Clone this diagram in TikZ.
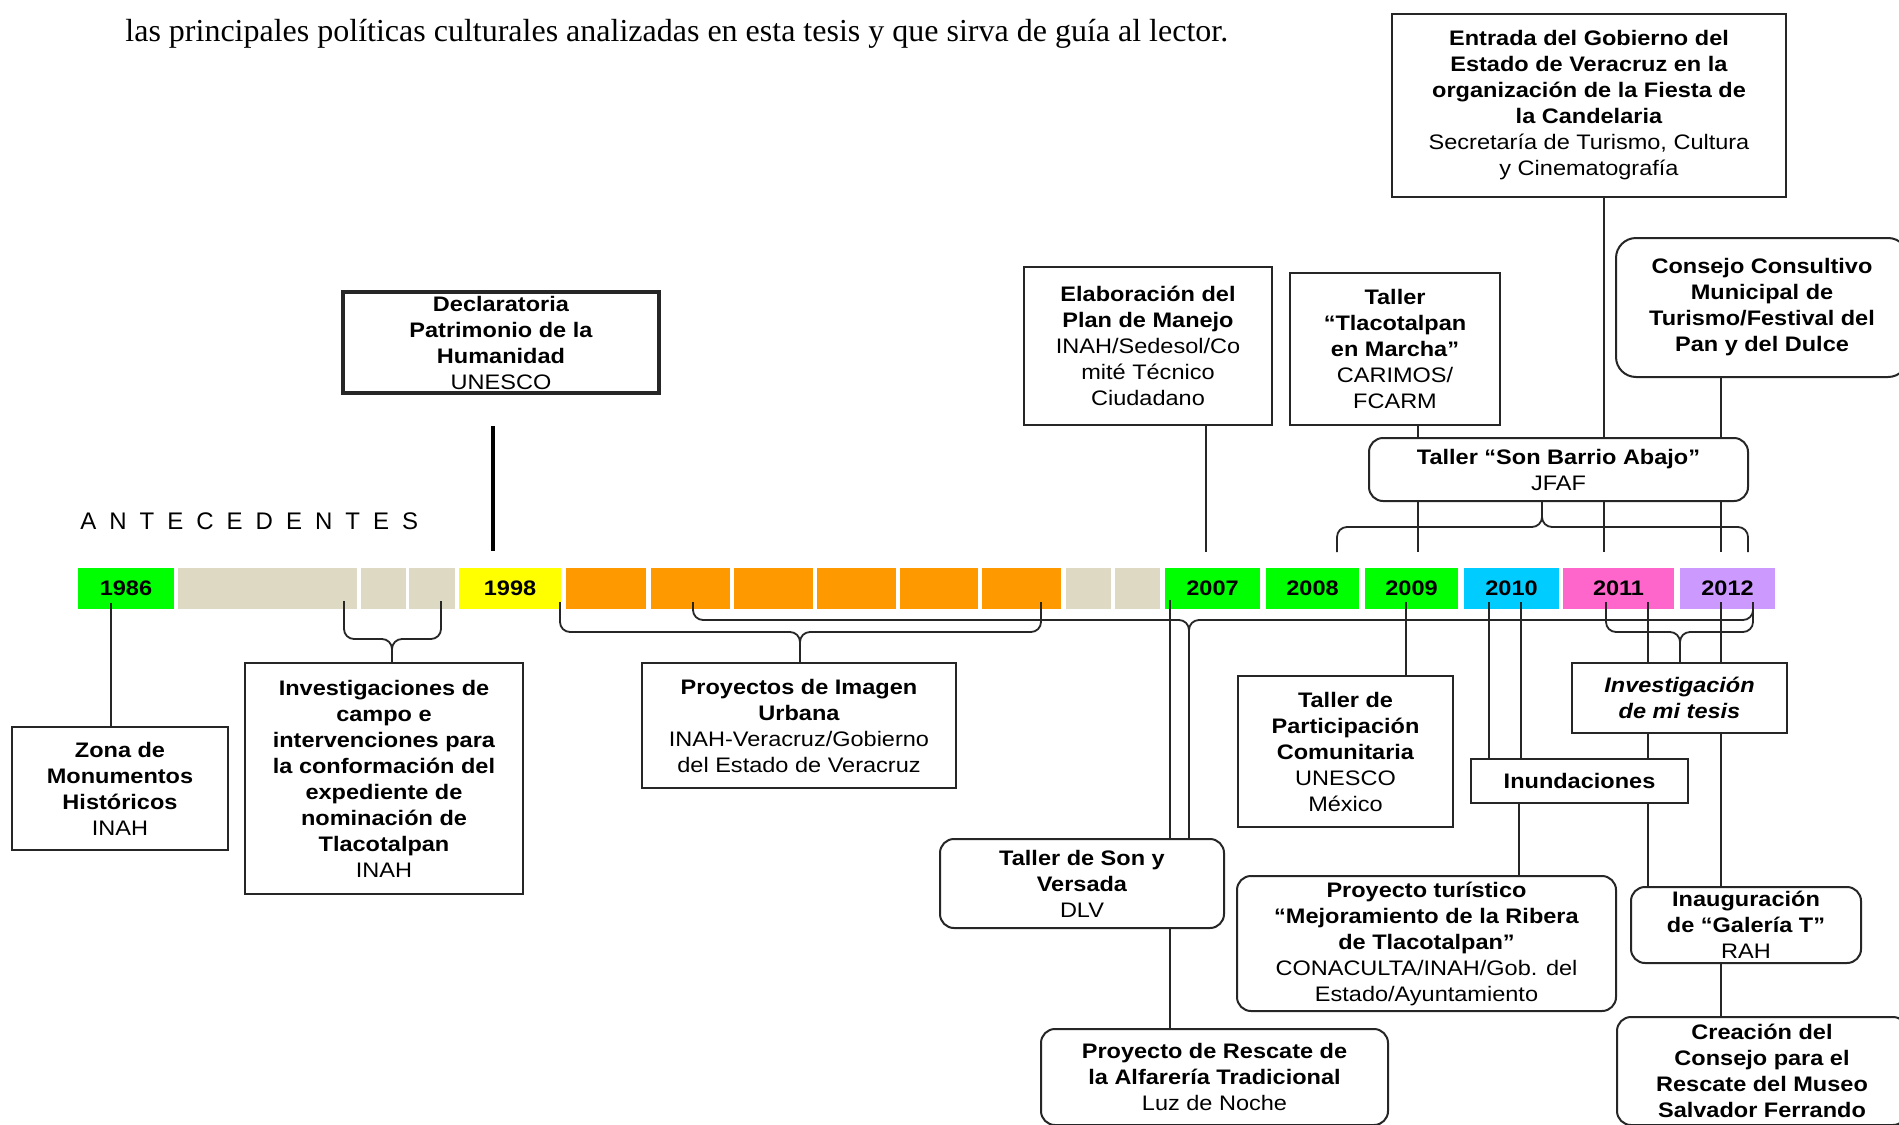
\documentclass[tikz,border=0pt]{standalone}
\usepackage{fontspec}
\setmainfont{Liberation Sans}
\newfontfamily\boxfont[FakeStretch=1.12]{Liberation Sans}
\newfontfamily\serifhead{Liberation Serif}

\definecolor{tgreen}{HTML}{00FF00}
\definecolor{tgray}{HTML}{DDD9C3}
\definecolor{tyellow}{HTML}{FFFF00}
\definecolor{torange}{HTML}{FF9900}
\definecolor{tcyan}{HTML}{00CCFF}
\definecolor{tpink}{HTML}{FF66CC}
\definecolor{tpurple}{HTML}{CC99FF}
\definecolor{ink}{HTML}{262626}

\tikzset{
  % a node spanning the rectangle (x1,y1)-(x2,y2), in picture units
  span/.style n args={4}{minimum width={(#3-#1)*0.5pt}, minimum height={(#4-#2)*0.5pt},
    at={({(#1+#3)/2},{(#2+#4)/2})}},
  card/.style={draw=ink, line width=1pt, fill=white, inner sep=0pt, align=center,
    font=\boxfont\fontsize{10.5}{13}\selectfont},
  roundcard/.style={card, rounded corners=7pt},
  cell/.style={inner sep=0pt, font=\boxfont\bfseries\fontsize{10.5}{12}\selectfont},
  link/.style={draw=ink, line width=0.9pt},
  bracket/.style={link, rounded corners=5pt},
}

\begin{document}
\begin{tikzpicture}[x=0.5pt, y=-0.5pt]
\clip (0,0) rectangle (1899,1124);
\fill[white] (0,0) rectangle (1899,1124);

% running text of the page
\node[anchor=base west, inner sep=0pt, font=\serifhead\fontsize{16}{18}\selectfont] (intro) at (125,41)
  {las principales políticas culturales analizadas en esta tesis y que sirva de guía al lector.};

% section label
\node[anchor=base west, inner sep=0pt, font=\fontsize{12}{14}\selectfont] (antec) at (80,529)
  {A\kern6.5pt N\kern6.5pt T\kern6.5pt E\kern6.5pt C\kern6.5pt E\kern6.5pt D\kern6.5pt E\kern6.5pt N\kern6.5pt T\kern6.5pt E\kern6.5pt S};

% ---------------- timeline cells ----------------
\node[cell, fill=tgreen,  span={78}{568}{174}{609}]    (c1986) {1986};
\node[cell, fill=tgray,   span={178}{568}{357}{609}]   (g1) {};
\node[cell, fill=tgray,   span={361}{568}{406}{609}]   (g2) {};
\node[cell, fill=tgray,   span={409}{568}{455}{609}]   (g3) {};
\node[cell, fill=tyellow, span={459}{568}{561}{609}]   (c1998) {1998};
\node[cell, fill=torange, span={566}{568}{646}{609}]   (o1) {};
\node[cell, fill=torange, span={651}{568}{730}{609}]   (o2) {};
\node[cell, fill=torange, span={734}{568}{813}{609}]   (o3) {};
\node[cell, fill=torange, span={817}{568}{896}{609}]   (o4) {};
\node[cell, fill=torange, span={900}{568}{978}{609}]   (o5) {};
\node[cell, fill=torange, span={982}{568}{1061}{609}]  (o6) {};
\node[cell, fill=tgray,   span={1066}{568}{1111}{609}] (g4) {};
\node[cell, fill=tgray,   span={1115}{568}{1160}{609}] (g5) {};
\node[cell, fill=tgreen,  span={1165}{568}{1260}{609}] (c2007) {2007};
\node[cell, fill=tgreen,  span={1266}{568}{1359}{609}] (c2008) {2008};
\node[cell, fill=tgreen,  span={1365}{568}{1458}{609}] (c2009) {2009};
\node[cell, fill=tcyan,   span={1464}{568}{1559}{609}] (c2010) {2010};
\node[cell, fill=tpink,   span={1563}{568}{1674}{609}] (c2011) {2011};
\node[cell, fill=tpurple, span={1680}{568}{1775}{609}] (c2012) {2012};

% ---------------- boxes above the timeline ----------------
\node[card, line width=2.4pt, span={343}{292}{659}{393}] (decl)
  {\textbf{Declaratoria}\\\textbf{Patrimonio de la}\\\textbf{Humanidad}\\UNESCO};
\node[card, span={1392}{14}{1786}{197}] (entr)
  {\textbf{Entrada del Gobierno del}\\\textbf{Estado de Veracruz en la}\\\textbf{organización de la Fiesta de}\\\textbf{la Candelaria}\\Secretaría de Turismo, Cultura\\y Cinematografía};
\node[card, span={1024}{267}{1272}{425}] (elab)
  {\textbf{Elaboración del}\\\textbf{Plan de Manejo}\\INAH/Sedesol/Co\\mité Técnico\\Ciudadano};
\node[card, span={1290}{273}{1500}{425}] (tlac)
  {\textbf{Taller}\\\textbf{“Tlacotalpan}\\\textbf{en Marcha”}\\CARIMOS/\\FCARM};
\node[card, rounded corners=10pt, span={1616}{238}{1908}{377}] (cons)
  {\textbf{Consejo Consultivo}\\\textbf{Municipal de}\\\textbf{Turismo/Festival del}\\\textbf{Pan y del Dulce}};
\node[roundcard, span={1369}{438}{1748}{501}] (sba)
  {\textbf{Taller “Son Barrio Abajo”}\\JFAF};

% ---------------- boxes below the timeline ----------------
\node[card, span={12}{727}{228}{850}] (zona)
  {\textbf{Zona de}\\\textbf{Monumentos}\\\textbf{Históricos}\\INAH};
\node[card, span={245}{663}{523}{894}] (inv)
  {\textbf{Investigaciones de}\\\textbf{campo e}\\\textbf{intervenciones para}\\\textbf{la conformación del}\\\textbf{expediente de}\\\textbf{nominación de}\\\textbf{Tlacotalpan}\\INAH};
\node[card, span={642}{663}{956}{788}] (img)
  {\textbf{Proyectos de Imagen}\\\textbf{Urbana}\\INAH-Veracruz/Gobierno\\del Estado de Veracruz};
\node[roundcard, span={940}{839}{1224}{928}] (son)
  {\textbf{Taller de Son y}\\\textbf{Versada}\\DLV};
\node[roundcard, span={1041}{1029}{1388}{1125}] (resc)
  {\textbf{Proyecto de Rescate de}\\\textbf{la Alfarería Tradicional}\\Luz de Noche};
\node[card, span={1238}{676}{1453}{827}] (part)
  {\textbf{Taller de}\\\textbf{Participación}\\\textbf{Comunitaria}\\UNESCO\\México};
\node[card, span={1471}{759}{1688}{803}] (inund)
  {\textbf{Inundaciones}};
\node[card, span={1572}{663}{1787}{733}] (tesis)
  {\textbf{\textit{Investigación}}\\\textbf{\textit{de mi tesis}}};
\node[roundcard, span={1237}{876}{1616}{1011}] (tur)
  {\textbf{Proyecto turístico}\\\textbf{“Mejoramiento de la Ribera}\\\textbf{de Tlacotalpan”}\\CONACULTA/INAH/Gob. del\\Estado/Ayuntamiento};
\node[roundcard, span={1631}{887}{1861}{963}] (inau)
  {\textbf{Inauguración}\\\textbf{de “Galería T”}\\RAH};
\node[roundcard, span={1617}{1017}{1907}{1125}] (crea)
  {\textbf{Creación del}\\\textbf{Consejo para el}\\\textbf{Rescate del Museo}\\\textbf{Salvador Ferrando}};

% ---------------- anchor points on the timeline ----------------
\coordinate (s86)   at (111,603);
\coordinate (s07)   at (1170,600);
\coordinate (s09)   at (1406,602);
\coordinate (s10a)  at (1489,602);
\coordinate (s10b)  at (1521,602);
\coordinate (s11)   at (1648,602);
\coordinate (s12)   at (1721,602);
\coordinate (u07)   at (1206,552);
\coordinate (u09)   at (1418,552);
\coordinate (u11)   at (1604,552);
\coordinate (u12)   at (1721,552);

% declaration marker
\coordinate (dtop) at (493,426);
\coordinate (dbot) at (493,551);
\draw[draw=black, line width=2.2pt] (dtop) -- (dbot);

% ---------------- connectors above ----------------
\draw[link] (elab.south -| u07) -- (u07);
\draw[link] (tlac.south -| u09) -- (sba.north -| u09);
\draw[link] (sba.south -| u09) -- (u09);
\draw[link] (entr.south -| u11) -- (sba.north -| u11);
\draw[link] (sba.south -| u11) -- (u11);
\draw[link] (cons.south -| u12) -- (sba.north -| u12);
\draw[link] (sba.south -| u12) -- (u12);
% bracket 2008-2012 up to the workshop
\coordinate (b5l) at (1337,552);
\coordinate (b5r) at (1748,552);
\coordinate (b5m) at (1542,527);
\draw[bracket] (b5l) |- (b5m) -- (b5m |- sba.south);
\draw[bracket] (b5r) |- (b5m) -- (b5m |- sba.south);

% ---------------- connectors below ----------------
\draw[link] (s86) -- (s86 |- zona.north);
\draw[link] (s07) -- (s07 |- son.north);
\draw[link] (s07 |- son.south) -- (s07 |- resc.north);
\draw[link] (s09) -- (s09 |- part.north);
\draw[link] (s10a) -- (s10a |- inund.north);
\draw[link] (s10b) -- (s10b |- inund.north);
\coordinate (f10) at (1519,803);
\draw[link] (inund.south -| f10) -- (tur.north -| f10);
\draw[link] (s11) -- (s11 |- tesis.north);
\draw[link] (s11 |- tesis.south) -- (s11 |- inund.north);
\draw[link] (s11 |- inund.south) -- (s11 |- inau.north);
\draw[link] (s12) -- (s12 |- tesis.north);
\draw[link] (s12 |- tesis.south) -- (s12 |- inau.north);
\draw[link] (s12 |- inau.south) -- (s12 |- crea.north);

% bracket over the field research years
\coordinate (b1l) at (344,601);
\coordinate (b1r) at (441,601);
\coordinate (b1m) at (392,639);
\draw[bracket] (b1l) |- (b1m) -- (b1m |- inv.north);
\draw[bracket] (b1r) |- (b1m) -- (b1m |- inv.north);

% bracket 1998-2004
\coordinate (b2l) at (560,602);
\coordinate (b2r) at (1041,602);
\coordinate (b2m) at (800,632);
\draw[bracket] (b2l) |- (b2m) -- (b2m |- img.north);
\draw[bracket] (b2r) |- (b2m) -- (b2m |- img.north);

% long bracket 1999-2012
\coordinate (b3l) at (693,602);
\coordinate (b3r) at (1753,602);
\coordinate (b3m) at (1189,620);
\draw[bracket] (b3l) |- (b3m) -- (b3m |- son.north);
\draw[bracket] (b3r) |- (b3m) -- (1189,640);

% bracket 2011-2012
\coordinate (b4l) at (1606,602);
\coordinate (b4r) at (1753,602);
\coordinate (b4m) at (1680,632);
\draw[bracket] (b4l) |- (b4m) -- (b4m |- tesis.north);
\draw[bracket] (b4r) |- (b4m) -- (b4m |- tesis.north);

\end{tikzpicture}
\end{document}
